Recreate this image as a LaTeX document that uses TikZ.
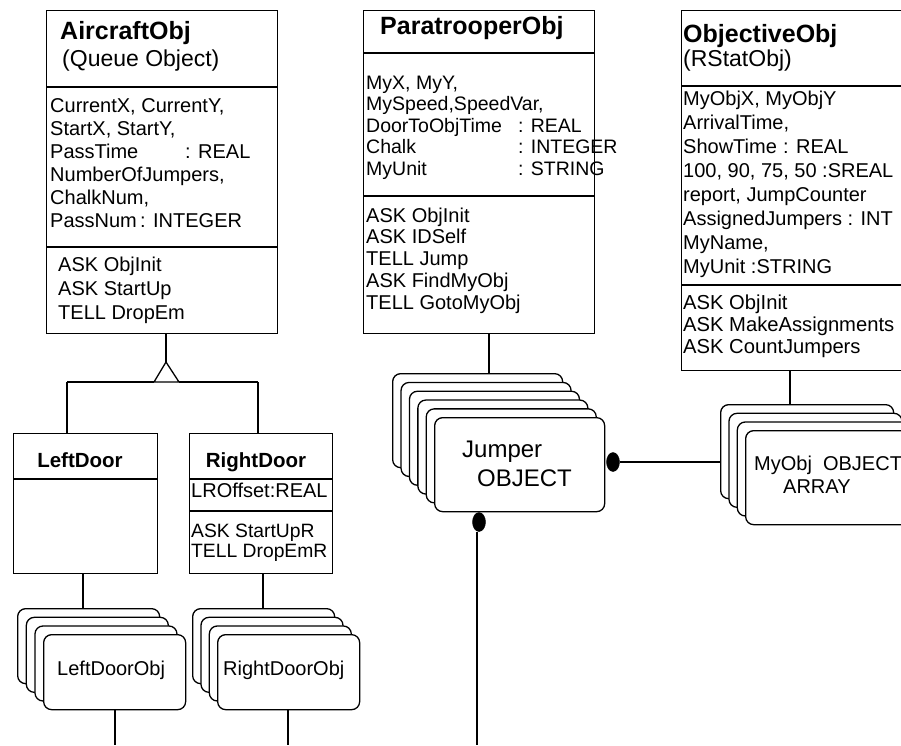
\documentclass[tikz,border=0pt]{standalone}
\usepackage{fontspec}
\setmainfont{Liberation Sans}
\usetikzlibrary{shapes.geometric}
\begin{document}
\begin{tikzpicture}[x=1pt,y=-1pt,
  ln/.style={line width=1.3pt},
  umlbox/.style={draw, line width=1.3pt, inner sep=0pt, anchor=north west},
  card/.style={draw, fill=white, rounded corners=8pt, line width=1.3pt, inner sep=0pt, anchor=north west},
  ttl/.style={anchor=base west, inner sep=0pt, font=\bfseries\fontsize{25}{28}\selectfont},
  sub/.style={anchor=base west, inner sep=0pt, font=\fontsize{23}{26}\selectfont},
  dtl/.style={anchor=base, inner sep=0pt, font=\bfseries\fontsize{20.5}{24}\selectfont},
  txt/.style={anchor=base west, inner sep=0pt, align=left, font=\fontsize{20}{23}\selectfont},
  big/.style={anchor=base west, inner sep=0pt, font=\fontsize{24}{28}\selectfont},
  dot/.style={ellipse, fill=black, draw=black, inner sep=0pt, minimum width=13pt, minimum height=19pt}
]
\useasboundingbox (0,0) rectangle (901,745);
\clip (0,0) rectangle (901,745);

% ---------------- AircraftObj
\node[umlbox, minimum width=231pt, minimum height=323pt] (air) at (46,10) {};
\draw[ln] (air.west |- 0,87) -- (air.east |- 0,87);
\draw[ln] (air.west |- 0,247) -- (air.east |- 0,247);
\node[ttl] (airT) at (60,39) {AircraftObj};
\node[sub] (airS) at (62,66) {(Queue Object)};
\node[txt] (airA) at (50,227) {CurrentX, CurrentY,\\StartX, StartY,\\\makebox[135pt][l]{PassTime}: REAL\\NumberOfJumpers,\\ChalkNum,\\\makebox[90pt][l]{PassNum}: INTEGER};
\node[txt, font=\fontsize{20}{24}\selectfont] (airM) at (58,319) {ASK ObjInit\\ASK StartUp\\TELL DropEm};

% ---------------- ParatrooperObj
\node[umlbox, minimum width=231pt, minimum height=323pt] (par) at (363,10) {};
\draw[ln] (par.west |- 0,53) -- (par.east |- 0,53);
\draw[ln] (par.west |- 0,196) -- (par.east |- 0,196);
\node[ttl] (parT) at (380,34) {ParatrooperObj};
\node[txt, font=\fontsize{19.5}{21.5}\selectfont] (parA) at (366,175) {MyX, MyY,\\MySpeed,SpeedVar,\\\makebox[152pt][l]{DoorToObjTime}: REAL\\\makebox[152pt][l]{Chalk}: INTEGER\\\makebox[152pt][l]{MyUnit}: STRING};
\node[txt, font=\fontsize{20}{21.75}\selectfont] (parM) at (366,309) {ASK ObjInit\\ASK IDSelf\\TELL Jump\\ASK FindMyObj\\TELL GotoMyObj};

% ---------------- ObjectiveObj
\node[umlbox, minimum width=240pt, minimum height=360pt] (obj) at (681,10) {};
\draw[ln] (obj.west |- 0,86) -- (obj.east |- 0,86);
\draw[ln] (obj.west |- 0,285) -- (obj.east |- 0,285);
\node[ttl] (objT) at (683,42) {ObjectiveObj};
\node[sub] (objS) at (683,66) {(RStatObj)};
\node[txt, font=\fontsize{20}{24}\selectfont] (objA) at (683,273) {MyObjX, MyObjY\\ArrivalTime,\\\makebox[100pt][l]{ShowTime}: REAL\\100, 90, 75, 50 :SREAL\\report, JumpCounter\\AssignedJumpers : INT\\MyName,\\MyUnit :STRING};
\node[txt, font=\fontsize{20.2}{22}\selectfont] (objM) at (683,353) {ASK ObjInit\\ASK MakeAssignments\\ASK CountJumpers};

% ---------------- LeftDoor / RightDoor
\node[umlbox, minimum width=144pt, minimum height=140pt] (ld) at (13,433) {};
\draw[ln] (ld.west |- 0,479) -- (ld.east |- 0,479);
\node[dtl] (ldT) at (80,467) {LeftDoor};
\node[umlbox, minimum width=143pt, minimum height=140pt] (rd) at (189,433) {};
\draw[ln] (rd.west |- 0,479) -- (rd.east |- 0,479);
\draw[ln] (rd.west |- 0,511) -- (rd.east |- 0,511);
\node[dtl] (rdT) at (256,467) {RightDoor};
\node[txt] (rdA) at (191,497) {LROffset:REAL};
\node[txt, font=\fontsize{19.3}{20}\selectfont] (rdM) at (191,557) {ASK StartUpR\\TELL DropEmR};

% inheritance
\coordinate (apex) at (166,362);
\coordinate (tl) at (154,382);
\coordinate (tr) at (179,382);
\coordinate (hl) at (67,382);
\coordinate (hr) at (258,382);
\draw[ln] (apex |- air.south) -- (apex);
\draw[ln, line join=miter] (apex) -- (tl) -- (tr) -- cycle;
\draw[ln] (hl) -- (tl);
\draw[ln] (tr) -- (hr);
\draw[ln] (hl) -- (hl |- ld.north);
\draw[ln] (hr) -- (hr |- rd.north);

% ---------------- LeftDoorObj stack
\node[card, minimum width=142pt, minimum height=75pt] (ld0) at (17,608) {};
\node[card, minimum width=142pt, minimum height=75pt] (ld1) at (25.67,616.67) {};
\node[card, minimum width=142pt, minimum height=75pt] (ld2) at (34.33,625.33) {};
\node[card, minimum width=142pt, minimum height=75pt] (ld3) at (43,634) {};
\node[txt] (ldO) at (57,675) {LeftDoorObj};
\draw[ln] (ld.south -| 83,0) -- (ld0.north -| 83,0);
\coordinate (ldEnd) at (115,745);
\draw[ln] (ld3.south -| ldEnd) -- (ldEnd);

% ---------------- RightDoorObj stack
\node[card, minimum width=142pt, minimum height=75pt] (rd0) at (192,608) {};
\node[card, minimum width=142pt, minimum height=75pt] (rd1) at (200.33,616.67) {};
\node[card, minimum width=142pt, minimum height=75pt] (rd2) at (208.67,625.33) {};
\node[card, minimum width=142pt, minimum height=75pt] (rd3) at (217,634) {};
\node[txt] (rdO) at (223,675) {RightDoorObj};
\draw[ln] (rd.south -| 263,0) -- (rd0.north -| 263,0);
\coordinate (rdEnd) at (288,745);
\draw[ln] (rd3.south -| rdEnd) -- (rdEnd);

% ---------------- Jumper stack
\node[card, minimum width=170pt, minimum height=94pt] (j0) at (392,373) {};
\node[card, minimum width=170pt, minimum height=94pt] (j1) at (400.4,381.8) {};
\node[card, minimum width=170pt, minimum height=94pt] (j2) at (408.8,390.6) {};
\node[card, minimum width=170pt, minimum height=94pt] (j3) at (417.2,399.4) {};
\node[card, minimum width=170pt, minimum height=94pt] (j4) at (425.6,408.2) {};
\node[card, minimum width=170pt, minimum height=94pt] (j5) at (434,417) {};
\node[big] (jT1) at (462,457) {Jumper};
\node[big] (jT2) at (477,486) {OBJECT};
\draw[ln] (par.south -| 489,0) -- (j0.north -| 489,0);

% ---------------- MyObj stack
\node[card, minimum width=173pt, minimum height=94pt] (m0) at (720,404) {};
\node[card, minimum width=173pt, minimum height=94pt] (m1) at (728.33,412.67) {};
\node[card, minimum width=173pt, minimum height=94pt] (m2) at (736.67,421.33) {};
\node[card, minimum width=173pt, minimum height=94pt] (m3) at (745,430) {};
\node[txt] (mT1) at (754,470) {MyObj\ \ OBJECT};
\node[txt] (mT2) at (783,493) {ARRAY};
\draw[ln] (obj.south -| 790,0) -- (m0.north -| 790,0);

% ---------------- dots and links
\node[dot] (dR) at (613,462) {};
\node[dot] (dB) at (479,522) {};
\draw[ln] (dR) -- (dR -| m0.west);
\coordinate (jEnd) at (477,745);
\draw[ln] (dB.south -| jEnd) -- (jEnd);
\end{tikzpicture}
\end{document}
